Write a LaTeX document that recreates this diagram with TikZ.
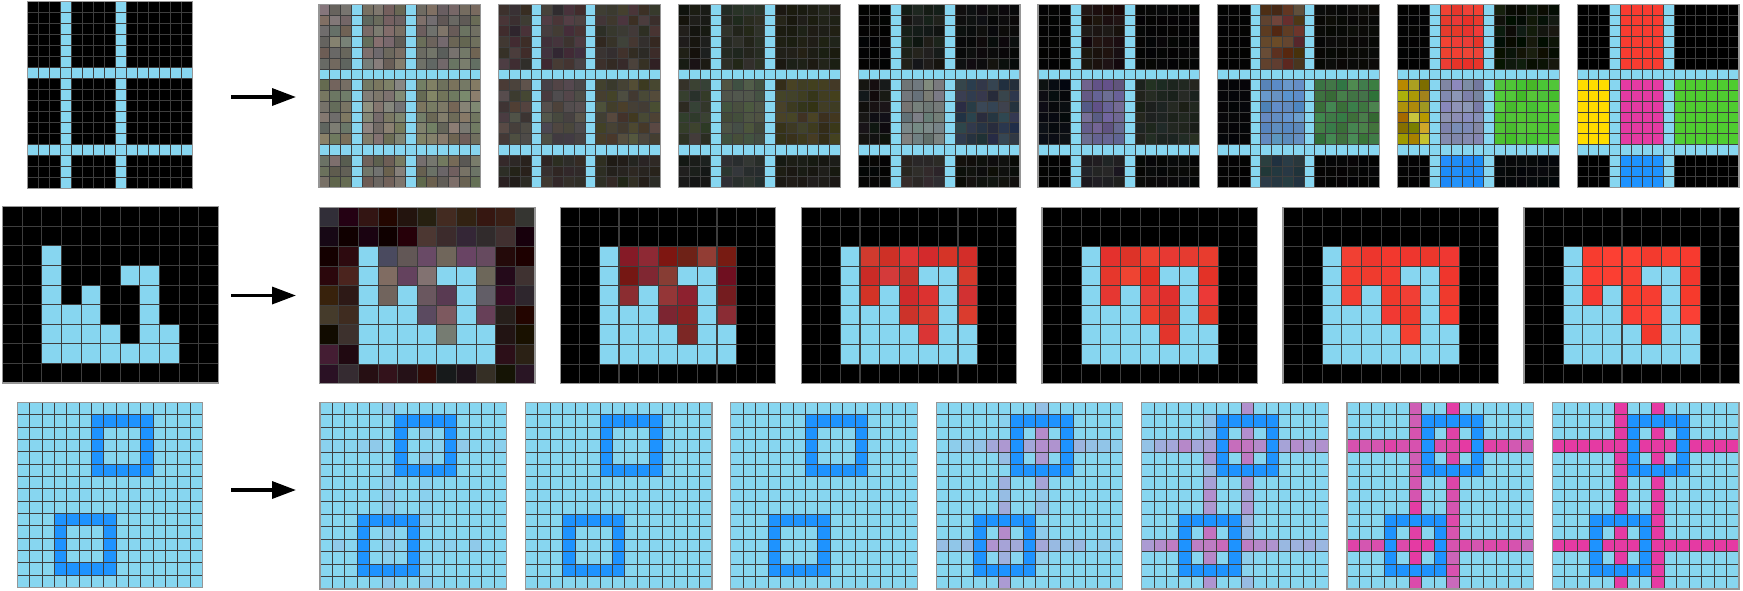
\documentclass[tikz,border=0pt]{standalone}
\usetikzlibrary{arrows.meta}
\definecolor{arcLB}{RGB}{135,214,240}
\definecolor{arcBlue}{RGB}{30,147,255}
\definecolor{arcMG}{RGB}{229,58,163}
\definecolor{gridc}{RGB}{62,62,62}
\definecolor{framec}{RGB}{150,150,150}
\definecolor{cc}{RGB}{0,0,0}
\tikzset{arr/.style={line width=3.4pt,-{Triangle[length=24pt,width=17pt]}}}
% random colour around a base
\newcommand\mkcolor[4]{%
 \pgfmathsetmacro\nbr{#4*rand}%
 \pgfmathsetmacro\rC{min(1,max(0,#1+\nbr+0.6*#4*rand))}%
 \pgfmathsetmacro\gC{min(1,max(0,#2+\nbr+0.6*#4*rand))}%
 \pgfmathsetmacro\bC{min(1,max(0,#3+\nbr+0.6*#4*rand))}%
 \definecolor{cc}{rgb}{\rC,\gC,\bC}}
\newcommand\setrb[6]{\expandafter\def\csname rb#1#2\endcsname{{#3}{#4}{#5}{#6}}}
\newcommand\setrt[6]{\expandafter\def\csname rt#1#2\endcsname{{#3}{#4}{#5}{#6}}}
% ---- row 1 region bases
\setrb{0}{AL}{0}{0}{0}{0}\setrb{0}{AM}{0}{0}{0}{0}\setrb{0}{AR}{0}{0}{0}{0}
\setrb{0}{BL}{0}{0}{0}{0}\setrb{0}{BM}{0}{0}{0}{0}\setrb{0}{BR}{0}{0}{0}{0}
\setrb{0}{CL}{0}{0}{0}{0}\setrb{0}{CM}{0}{0}{0}{0}\setrb{0}{CR}{0}{0}{0}{0}
%
\setrb{1}{AL}{0.45}{0.43}{0.40}{0.06}\setrb{1}{AM}{0.46}{0.43}{0.41}{0.06}\setrb{1}{AR}{0.44}{0.43}{0.39}{0.06}
\setrb{1}{BL}{0.47}{0.47}{0.40}{0.06}\setrb{1}{BM}{0.48}{0.48}{0.42}{0.06}\setrb{1}{BR}{0.46}{0.46}{0.38}{0.06}
\setrb{1}{CL}{0.43}{0.41}{0.37}{0.06}\setrb{1}{CM}{0.44}{0.43}{0.39}{0.06}\setrb{1}{CR}{0.42}{0.41}{0.36}{0.06}
%
\setrb{2}{AL}{0.24}{0.20}{0.19}{0.05}\setrb{2}{AM}{0.26}{0.21}{0.21}{0.05}\setrb{2}{AR}{0.22}{0.19}{0.17}{0.05}
\setrb{2}{BL}{0.30}{0.27}{0.24}{0.05}\setrb{2}{BM}{0.30}{0.28}{0.27}{0.04}\setrb{2}{BR}{0.29}{0.27}{0.20}{0.05}
\setrb{2}{CL}{0.17}{0.15}{0.13}{0.03}\setrb{2}{CM}{0.20}{0.18}{0.16}{0.03}\setrb{2}{CR}{0.16}{0.15}{0.12}{0.03}
%
\setrb{3}{AL}{0.10}{0.10}{0.08}{0.03}\setrb{3}{AM}{0.15}{0.17}{0.13}{0.03}\setrb{3}{AR}{0.12}{0.12}{0.08}{0.02}
\setrb{3}{BL}{0.20}{0.22}{0.17}{0.04}\setrb{3}{BM}{0.28}{0.32}{0.26}{0.04}\setrb{3}{BR}{0.24}{0.22}{0.12}{0.04}
\setrb{3}{CL}{0.10}{0.11}{0.10}{0.02}\setrb{3}{CM}{0.17}{0.19}{0.19}{0.03}\setrb{3}{CR}{0.11}{0.11}{0.09}{0.02}
%
\setrb{4}{AL}{0.01}{0.01}{0.01}{0.01}\setrb{4}{AM}{0.10}{0.12}{0.10}{0.03}\setrb{4}{AR}{0.05}{0.05}{0.05}{0.02}
\setrb{4}{BL}{0.08}{0.08}{0.08}{0.03}\setrb{4}{BM}{0.44}{0.47}{0.47}{0.05}\setrb{4}{BR}{0.17}{0.22}{0.27}{0.05}
\setrb{4}{CL}{0.02}{0.02}{0.02}{0.01}\setrb{4}{CM}{0.17}{0.15}{0.15}{0.03}\setrb{4}{CR}{0.06}{0.06}{0.05}{0.02}
%
\setrb{5}{AL}{0.01}{0.01}{0.01}{0.005}\setrb{5}{AM}{0.11}{0.07}{0.06}{0.03}\setrb{5}{AR}{0.02}{0.02}{0.02}{0.01}
\setrb{5}{BL}{0.04}{0.05}{0.07}{0.02}\setrb{5}{BM}{0.40}{0.38}{0.55}{0.05}\setrb{5}{BR}{0.12}{0.15}{0.12}{0.03}
\setrb{5}{CL}{0.01}{0.01}{0.01}{0.005}\setrb{5}{CM}{0.12}{0.12}{0.13}{0.03}\setrb{5}{CR}{0.03}{0.03}{0.03}{0.01}
%
\setrb{6}{AL}{0.01}{0.01}{0.01}{0.005}\setrb{6}{AM}{0.35}{0.20}{0.13}{0.08}\setrb{6}{AR}{0.04}{0.04}{0.03}{0.01}
\setrb{6}{BL}{0.02}{0.02}{0.03}{0.01}\setrb{6}{BM}{0.36}{0.55}{0.76}{0.05}\setrb{6}{BR}{0.25}{0.48}{0.27}{0.05}
\setrb{6}{CL}{0.01}{0.01}{0.01}{0.005}\setrb{6}{CM}{0.14}{0.21}{0.24}{0.03}\setrb{6}{CR}{0.02}{0.02}{0.02}{0.01}
%
\setrb{7}{AL}{0.01}{0.01}{0.01}{0.005}\setrb{7}{AM}{0.92}{0.23}{0.19}{0.03}\setrb{7}{AR}{0.05}{0.08}{0.03}{0.04}
\setrb{7}{BL}{0.68}{0.58}{0.05}{0.15}\setrb{7}{BM}{0.50}{0.53}{0.68}{0.05}\setrb{7}{BR}{0.30}{0.76}{0.20}{0.03}
\setrb{7}{CL}{0.01}{0.01}{0.01}{0.005}\setrb{7}{CM}{0.13}{0.56}{0.98}{0.02}\setrb{7}{CR}{0.02}{0.03}{0.04}{0.01}
%
\setrb{8}{AL}{0}{0}{0}{0}\setrb{8}{AM}{0.976}{0.235}{0.192}{0}\setrb{8}{AR}{0}{0}{0}{0}
\setrb{8}{BL}{1}{0.863}{0}{0}\setrb{8}{BM}{0.898}{0.227}{0.639}{0}\setrb{8}{BR}{0.31}{0.8}{0.188}{0}
\setrb{8}{CL}{0}{0}{0}{0}\setrb{8}{CM}{0.118}{0.576}{1}{0}\setrb{8}{CR}{0}{0}{0}{0}
% ---- row 2 bases (I interior, O outside)
\setrt{0}{I}{0}{0}{0}{0}\setrt{0}{O}{0}{0}{0}{0}
\setrt{1}{I}{0.42}{0.37}{0.40}{0.11}\setrt{1}{O}{0.17}{0.09}{0.09}{0.09}
\setrt{2}{I}{0.50}{0.14}{0.14}{0.07}\setrt{2}{O}{0}{0}{0}{0}
\setrt{3}{I}{0.82}{0.20}{0.17}{0.04}\setrt{3}{O}{0}{0}{0}{0}
\setrt{4}{I}{0.90}{0.22}{0.18}{0.03}\setrt{4}{O}{0}{0}{0}{0}
\setrt{5}{I}{0.94}{0.23}{0.19}{0.02}\setrt{5}{O}{0}{0}{0}{0}
\setrt{6}{I}{0.965}{0.235}{0.19}{0.015}\setrt{6}{O}{0}{0}{0}{0}
\def\rtwoflat{{0,0,0,0,0,0,0,0,0,0,0,%
0,0,0,0,0,0,0,0,0,0,0,%
0,0,1,0,0,0,0,0,0,0,0,%
0,0,1,0,0,0,1,1,0,0,0,%
0,0,1,0,1,0,0,1,0,0,0,%
0,0,1,1,1,0,0,1,0,0,0,%
0,0,1,1,1,1,0,1,1,0,0,%
0,0,1,1,1,1,1,1,1,0,0,%
0,0,0,0,0,0,0,0,0,0,0}}
% ---- colour rules
\newcommand\setrowband{\ifnum\i<6 \def\rband{A}\else\ifnum\i=6 \def\rband{X}\else\ifnum\i<13 \def\rband{B}\else\ifnum\i=13 \def\rband{X}\else\def\rband{C}\fi\fi\fi\fi}
\newcommand\setcolband{\ifnum\j<3 \def\cband{L}\else\ifnum\j=3 \def\cband{X}\else\ifnum\j<8 \def\cband{M}\else\ifnum\j=8 \def\cband{X}\else\def\cband{R}\fi\fi\fi\fi}
\newcommand\rowonecolor[1]{\setrowband\setcolband
 \if X\rband \colorlet{cc}{arcLB}\else\if X\cband \colorlet{cc}{arcLB}\else
 \expandafter\expandafter\expandafter\mkcolor\csname rb#1\rband\cband\endcsname\fi\fi}
\newcommand\rowtwocolor[1]{%
 \pgfmathtruncatemacro\ib{\rtwoflat[\i*11+\j]}%
 \pgfmathtruncatemacro\inb{(\i>=2)&&(\i<=7)&&(\j>=2)&&(\j<=8)}%
 \ifnum\ib=1 \colorlet{cc}{arcLB}%
 \else\ifnum\inb=1 \expandafter\expandafter\expandafter\mkcolor\csname rt#1I\endcsname
 \else\expandafter\expandafter\expandafter\mkcolor\csname rt#1O\endcsname\fi\fi}
\newcommand\rowthreecolor[3]{%
 \pgfmathtruncatemacro\isbox{(((\i==1)||(\i==5))&&(\j>=6)&&(\j<=10))||(((\j==6)||(\j==10))&&(\i>=1)&&(\i<=5))||(((\i==9)||(\i==13))&&(\j>=3)&&(\j<=7))||(((\j==3)||(\j==7))&&(\i>=9)&&(\i<=13))}%
 \ifnum\isbox=1 \colorlet{cc}{arcBlue}\else
 \pgfmathtruncatemacro\isln{(\i==3)||(\i==11)||(\j==5)||(\j==8)}%
 \ifnum\isln=1
  \pgfmathsetmacro\dd{min(((\i==3)?abs(\j-8):99),((\i==11)?abs(\j-5):99),((\j==8)?abs(\i-3):99),((\j==5)?abs(\i-11):99))}%
  \pgfmathtruncatemacro\wp{max(0,min(100,100*(#1+#2*rand-#3*\dd)))}%
  \colorlet{cc}{arcMG!\wp!arcLB}%
 \else\colorlet{cc}{arcLB}\fi\fi}
% ---- grid drawer: x0,y0,cell,ncols,nrows,linewidth,colour rule
\newcommand\drawgrid[7]{%
 \pgfmathtruncatemacro\gnc{#4-1}\pgfmathtruncatemacro\gnr{#5-1}%
 \foreach \i in {0,...,\gnr}{\foreach \j in {0,...,\gnc}{#7%
   \filldraw[fill=cc,draw=gridc,line width=#6] ({#1+\j*#3},{#2+\i*#3}) rectangle ++(#3,#3);}}%
 \draw[draw=framec,line width=1.3] (#1,#2) rectangle ++({#4*#3},{#5*#3});}
\begin{document}
\begin{tikzpicture}[x=1pt,y=-1pt]
\pgfmathsetseed{4242}
\fill[white] (0,0) rectangle (1743,590);
\useasboundingbox (0,0) rectangle (1743,590);
% row 1
\drawgrid{27.7}{1.7}{11}{15}{17}{0.8}{\rowonecolor{0}}
\foreach \k in {1,...,8}{\pgfmathsetmacro\xx{319+179.75*(\k-1)}%
 \drawgrid{\xx}{4.3}{10.78}{15}{17}{0.8}{\rowonecolor{\k}}}
% row 2
\drawgrid{2.7}{206.7}{19.6}{11}{9}{1.1}{\rowtwocolor{0}}
\foreach \k in {1,...,6}{\pgfmathsetmacro\xx{319.3+240.94*(\k-1)}%
 \drawgrid{\xx}{207.3}{19.6}{11}{9}{1.1}{\rowtwocolor{\k}}}
% row 3
\drawgrid{17.3}{402.3}{12.35}{15}{15}{0.9}{\rowthreecolor{0}{0}{0}}
\def\rtw{{0.03,0,0,0.42,0.62,0.98,1}}
\def\rta{{0.06,0,0,0.14,0.14,0.08,0}}
\def\rtf{{0,0,0,0.05,0.05,0.02,0}}
\foreach \k in {1,...,7}{\pgfmathsetmacro\xx{320+205.4*(\k-1)}%
 \pgfmathsetmacro\ww{\rtw[\k-1]}\pgfmathsetmacro\aa{\rta[\k-1]}\pgfmathsetmacro\ff{\rtf[\k-1]}%
 \drawgrid{\xx}{402.3}{12.44}{15}{15}{0.9}{\rowthreecolor{\ww}{\aa}{\ff}}}
% arrows
\coordinate (a1s) at (231,97); \coordinate (a1e) at (296,97);
\coordinate (a2s) at (231,295.5); \coordinate (a2e) at (296,295.5);
\coordinate (a3s) at (231,490); \coordinate (a3e) at (296,490);
\draw[arr] (a1s) -- (a1e);
\draw[arr] (a2s) -- (a2e);
\draw[arr] (a3s) -- (a3e);
\end{tikzpicture}
\end{document}
